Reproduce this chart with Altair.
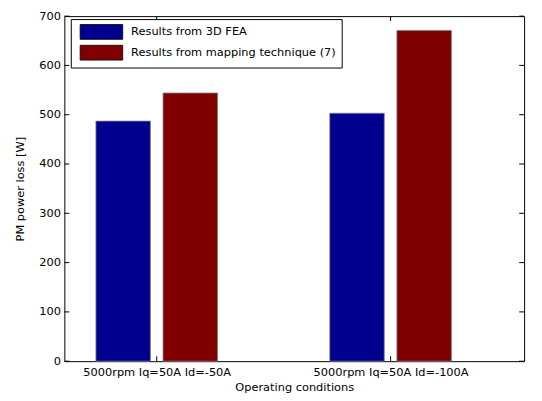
import json
import altair as alt
import pandas as pd

conditions = ["5000rpm Iq=50A Id=-50A", "5000rpm Iq=50A Id=-100A"]
fea = [487, 503]
mapping = [544, 671]
series = ["Results from 3D FEA", "Results from mapping technique (7)"]
colors = ["#00008F", "#800000"]
y_ticks = [0, 100, 200, 300, 400, 500, 600, 700]
x_ticks = [1, 2]

GROUP_OFFSET = 0.287
BAR_W = 0.233
rows = []
for i, c in enumerate(conditions):
    pos = i + 1
    for j, (s, vals) in enumerate(zip(series, [fea, mapping])):
        center = pos + (j - 0.5) * GROUP_OFFSET
        rows.append(dict(cond=c, series=s, value=vals[i],
                         x0=center - BAR_W / 2, x1=center + BAR_W / 2))
df = pd.DataFrame(rows)

W, H = 465, 349
FONT = "DejaVu Sans"
FS = 11.5
xscale = alt.Scale(domain=[0.605, 2.571], nice=False, zero=False)
yscale = alt.Scale(domain=[0, 700], nice=False)
label_expr = f"{json.dumps(conditions)}[datum.value - 1]"

xaxis = alt.Axis(values=x_ticks, labelExpr=label_expr, title="Operating conditions",
                 grid=False, tickSize=0, domain=False, labelPadding=5, titlePadding=4)
yaxis = alt.Axis(values=y_ticks, title="PM power loss [W]", grid=False, tickSize=0,
                 domain=False, labelPadding=4, titlePadding=13)

bars = alt.Chart(df).mark_rect(stroke="#808080", strokeWidth=0.8).encode(
    x=alt.X("x0:Q", scale=xscale, axis=xaxis),
    x2="x1:Q",
    y=alt.Y("value:Q", scale=yscale, axis=yaxis),
    y2=alt.datum(0),
    color=alt.Color("series:N", scale=alt.Scale(domain=series, range=colors),
                    legend=alt.Legend(title=None, orient="none", legendX=6.5, legendY=3,
                                      symbolType="M-2.87,-1H2.87V1H-2.87Z", symbolSize=225,
                                      symbolStrokeColor="black", symbolStrokeWidth=0.8,
                                      symbolOffset=18, labelOffset=22,
                                      padding=5, rowPadding=1, strokeColor="black",
                                      fillColor="white", labelFontSize=FS,
                                      labelFont=FONT, labelColor="black",
                                      symbolOpacity=1, labelLimit=400)),
)

ydf = pd.DataFrame({"v": y_ticks})
xdf = pd.DataFrame({"t": x_ticks})

ytick_l = alt.Chart(ydf).mark_rule(color="black", strokeWidth=1).encode(
    y=alt.Y("v:Q", scale=yscale, axis=yaxis), x=alt.value(0), x2=alt.value(5))
ytick_r = alt.Chart(ydf).mark_rule(color="black", strokeWidth=1).encode(
    y=alt.Y("v:Q", scale=yscale, axis=yaxis), x=alt.value(W - 5), x2=alt.value(W))
xtick_t = alt.Chart(xdf).mark_rule(color="black", strokeWidth=1).encode(
    x=alt.X("t:Q", scale=xscale, axis=xaxis), y=alt.value(0), y2=alt.value(5))
xtick_b = alt.Chart(xdf).mark_rule(color="black", strokeWidth=1).encode(
    x=alt.X("t:Q", scale=xscale, axis=xaxis), y=alt.value(H - 5), y2=alt.value(H))

chart = alt.layer(bars, ytick_l, ytick_r, xtick_t, xtick_b).properties(
    width=W, height=H,
    autosize=alt.AutoSizeParams(type="none"),
    padding={"left": 57, "top": 6, "right": 10, "bottom": 34},
).configure(font=FONT).configure_view(stroke="black", strokeWidth=1).configure_axis(
    labelFont=FONT, titleFont=FONT, labelFontSize=FS, titleFontSize=FS,
    titleFontWeight="normal", labelColor="black", titleColor="black",
)

chart.save("out.html", embed_options={"renderer": "svg", "actions": False})
